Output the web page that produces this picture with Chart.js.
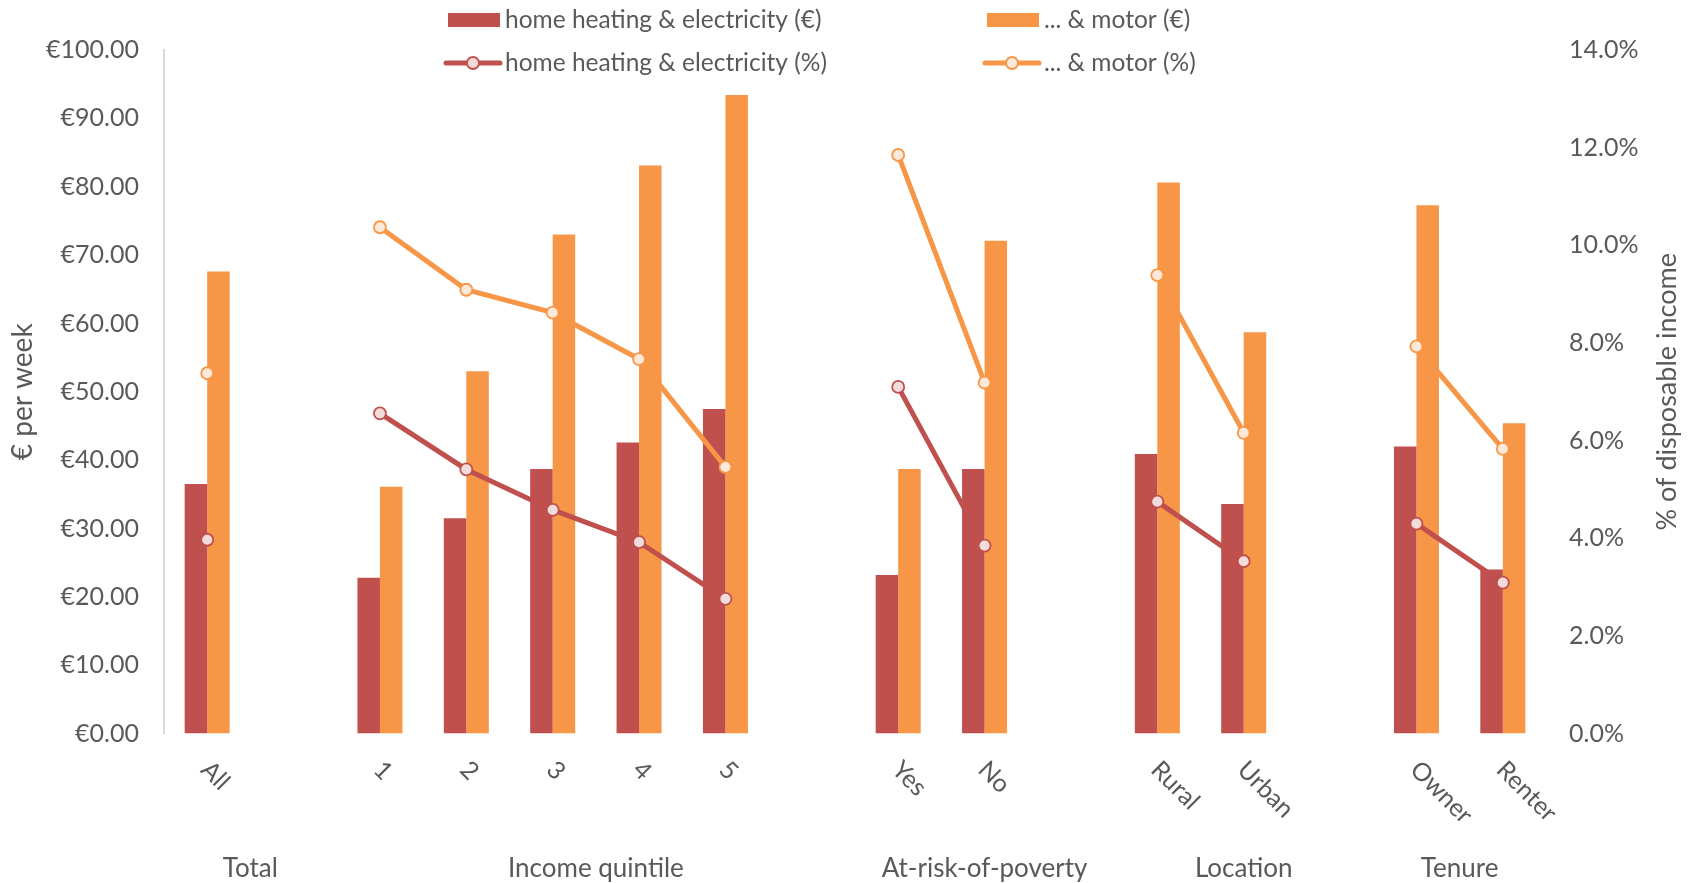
<!DOCTYPE html>
<html>
<head>
<meta charset="utf-8">
<script src="https://cdn.jsdelivr.net/npm/chart.js@4"></script>
<style>
  html, body { margin: 0; padding: 0; background: #ffffff; }
  #wrap { width: 1694px; height: 883px; }
</style>
</head>
<body>
<div id="wrap"><canvas id="chart" width="1694" height="883"></canvas></div>
<script>
// Categories (empty strings are spacer slots between groups)
const categories = ['All', '', '1', '2', '3', '4', '5', '', 'Yes', 'No', '', 'Rural', 'Urban', '', 'Owner', 'Renter'];

// Group captions under the category labels and how many slots each spans
const groupNames = ['Total', 'Income quintile', 'At-risk-of-poverty', 'Location', 'Tenure'];
const groupSpans = [2, 6, 3, 3, 2];

// Weekly cost in euro
const heatEur  = [36.5, null, 22.8, 31.5, 38.7, 42.6, 47.5, null, 23.2, 38.7, null, 40.9, 33.6, null, 42.0, 24.0];
const motorEur = [67.6, null, 36.1, 53.0, 73.0, 83.1, 93.4, null, 38.7, 72.1, null, 80.6, 58.7, null, 77.3, 45.4];

// Share of disposable income, percent
const heatPct  = [3.97, null, 6.56, 5.41, 4.58, 3.92, 2.76, null, 7.10, 3.85, null, 4.75, 3.53, null, 4.30, 3.09];
const motorPct = [7.38, null, 10.37, 9.09, 8.62, 7.67, 5.46, null, 11.85, 7.19, null, 9.39, 6.16, null, 7.93, 5.83];

// Axis ticks
const eurTicks = { min: 0, max: 100, step: 10 };
const pctTicks = { min: 0, max: 14, step: 2 };

const FONT = 'Lato, "Open Sans", sans-serif';
const TEXT = '#595959';
const RED = '#C0504D';
const ORANGE = '#F79646';
const RED_FILL = '#F2DCDB';
const ORANGE_FILL = '#FDE9D9';

// Rotated category labels, group captions, right-hand axis title and the legend
const decorations = {
  id: 'decorations',
  afterDraw(chart) {
    const { ctx, chartArea } = chart;
    const x = chart.scales.x;
    ctx.save();
    ctx.fillStyle = TEXT;

    // category labels, slanted downwards to the right
    ctx.font = `25px ${FONT}`;
    ctx.textAlign = 'left';
    ctx.textBaseline = 'middle';
    categories.forEach((c, i) => {
      if (!c) return;
      const px = x.getPixelForValue(i);
      ctx.save();
      ctx.translate(px - 2, chartArea.bottom + 32);
      ctx.rotate(Math.PI / 4);
      ctx.fillText(c, 0, 0);
      ctx.restore();
    });

    // group captions, centred under the slots they cover
    ctx.font = `26px ${FONT}`;
    ctx.textAlign = 'center';
    let start = 0;
    groupNames.forEach((g, k) => {
      const end = start + groupSpans[k] - 1;
      const cx = (x.getPixelForValue(start) + x.getPixelForValue(end)) / 2;
      ctx.fillText(g, cx, chartArea.bottom + 135);
      start = end + 1;
    });

    // right axis title, reading bottom to top
    ctx.font = `27px ${FONT}`;
    ctx.save();
    ctx.translate(chartArea.right + 121, (chartArea.top + chartArea.bottom) / 2);
    ctx.rotate(-Math.PI / 2);
    ctx.fillText('% of disposable income', 0, 0);
    ctx.restore();

    // legend: two rows, two columns
    ctx.font = `24.5px ${FONT}`;
    const colX = [448, 987];
    const rowY = [20, 63];
    chart.data.datasets.forEach((ds, i) => {
      const cx = colX[i % 2];
      const cy = rowY[Math.floor(i / 2)];
      if (ds.type === 'bar') {
        ctx.fillStyle = ds.backgroundColor;
        ctx.fillRect(cx, cy - 7, 52, 14);
      } else {
        ctx.strokeStyle = ds.borderColor;
        ctx.lineWidth = ds.borderWidth;
        ctx.lineCap = 'round';
        ctx.beginPath();
        ctx.moveTo(cx - 2, cy);
        ctx.lineTo(cx + 52, cy);
        ctx.stroke();
        ctx.beginPath();
        ctx.arc(cx + 25, cy, ds.pointRadius, 0, Math.PI * 2);
        ctx.fillStyle = ds.pointBackgroundColor;
        ctx.fill();
        ctx.lineWidth = ds.pointBorderWidth;
        ctx.strokeStyle = ds.pointBorderColor;
        ctx.stroke();
      }
      ctx.fillStyle = TEXT;
      ctx.textAlign = 'left';
      ctx.textBaseline = 'middle';
      ctx.fillText(ds.label, cx + 57, cy);
    });
    ctx.restore();
  }
};

new Chart(document.getElementById('chart'), {
  data: {
    labels: categories,
    datasets: [
      {
        type: 'bar', label: 'home heating & electricity (€)', data: heatEur,
        backgroundColor: RED, yAxisID: 'y', order: 2,
        categoryPercentage: 0.521, barPercentage: 1.0
      },
      {
        type: 'bar', label: '... & motor (€)', data: motorEur,
        backgroundColor: ORANGE, yAxisID: 'y', order: 2,
        categoryPercentage: 0.521, barPercentage: 1.0
      },
      {
        type: 'line', label: 'home heating & electricity (%)', data: heatPct,
        borderColor: RED, borderWidth: 5, yAxisID: 'y1', order: 0,
        pointRadius: 6, pointBorderWidth: 1.8,
        pointBackgroundColor: RED_FILL, pointBorderColor: RED,
        spanGaps: false, tension: 0, fill: false
      },
      {
        type: 'line', label: '... & motor (%)', data: motorPct,
        borderColor: ORANGE, borderWidth: 5, yAxisID: 'y1', order: 0,
        pointRadius: 6, pointBorderWidth: 1.8,
        pointBackgroundColor: ORANGE_FILL, pointBorderColor: ORANGE,
        spanGaps: false, tension: 0, fill: false
      }
    ]
  },
  options: {
    responsive: false,
    devicePixelRatio: 1,
    animation: false,
    layout: { padding: { top: 50, left: 0, right: 0, bottom: 0 } },
    plugins: {
      legend: { display: false },
      tooltip: { enabled: false }
    },
    scales: {
      x: {
        type: 'category',
        offset: true,
        grid: { display: false },
        border: { display: false },
        ticks: { display: false },
        afterFit(s) { s.height = 149.4; }
      },
      y: {
        position: 'left',
        min: eurTicks.min, max: eurTicks.max,
        grid: { display: false },
        border: { display: true, color: '#D9D9D9', width: 2 },
        ticks: {
          stepSize: eurTicks.step, padding: 17, color: TEXT,
          font: { family: FONT, size: 25 },
          callback: v => '€' + Number(v).toFixed(2)
        },
        title: {
          display: true, text: '€ per week', color: TEXT,
          font: { family: FONT, size: 28 }, padding: { top: 6, bottom: 0 }
        },
        afterFit(s) { s.width = 164; }
      },
      y1: {
        position: 'right',
        min: pctTicks.min, max: pctTicks.max,
        grid: { display: false },
        border: { display: false },
        ticks: {
          stepSize: pctTicks.step, padding: 15, color: TEXT,
          font: { family: FONT, size: 25 },
          callback: v => Number(v).toFixed(1) + '%'
        },
        afterFit(s) { s.width = 148; }
      }
    }
  },
  plugins: [decorations]
});
</script>
</body>
</html>
